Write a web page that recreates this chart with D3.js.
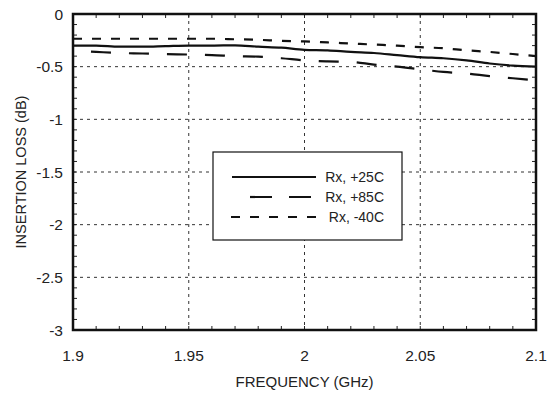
<!DOCTYPE html>
<html>
<head>
<meta charset="utf-8">
<script src="https://cdn.jsdelivr.net/npm/d3@7"></script>
<style>
    body { margin: 0; background: #fff; }
    text { font-family: "Liberation Sans", Arial, sans-serif; fill: #222; }
</style>
</head>
<body>
<svg id="chart"></svg>
<script>
var width = 549;
var height = 396;

// frequency points (GHz)
var freq = [1.90, 1.91, 1.92, 1.93, 1.94, 1.95, 1.96, 1.97, 1.98, 1.99, 2.00,
    2.01, 2.02, 2.03, 2.04, 2.05, 2.06, 2.07, 2.08, 2.09, 2.10];

// insertion loss (dB)
var rx25 = [-0.30, -0.30, -0.31, -0.31, -0.305, -0.30, -0.30, -0.297, -0.31, -0.32, -0.34,
    -0.345, -0.36, -0.37, -0.39, -0.41, -0.42, -0.44, -0.47, -0.49, -0.50];
var rx85 = [-0.35, -0.36, -0.37, -0.375, -0.38, -0.385, -0.39, -0.40, -0.405, -0.42, -0.44,
    -0.45, -0.455, -0.48, -0.50, -0.525, -0.55, -0.565, -0.59, -0.61, -0.63];
var rxm40 = [-0.235, -0.235, -0.235, -0.235, -0.235, -0.235, -0.235, -0.24, -0.245, -0.255, -0.26,
    -0.27, -0.28, -0.29, -0.30, -0.315, -0.325, -0.345, -0.36, -0.38, -0.40];

var seriesNames = ["Rx, +25C", "Rx, +85C", "Rx, -40C"];
var xTicks = [1.9, 1.95, 2, 2.05, 2.1];
var yTicks = [0, -0.5, -1, -1.5, -2, -2.5, -3];

var margin = { left: 73, right: 13, top: 14, bottom: 66 };

var svg = d3.select("#chart")
    .attr("width", width)
    .attr("height", height);

var x = d3.scaleLinear()
    .domain([1.9, 2.1])
    .range([margin.left, width - margin.right]);

var y = d3.scaleLinear()
    .domain([-3, 0])
    .range([height - margin.bottom, margin.top]);

// grid
svg.append("g")
    .selectAll("line")
    .data(xTicks.slice(1, -1))
    .enter()
    .append("line")
    .attr("x1", function (d) { return x(d); })
    .attr("x2", function (d) { return x(d); })
    .attr("y1", y(0))
    .attr("y2", y(-3))
    .attr("stroke", "#333")
    .attr("stroke-width", 1)
    .attr("stroke-dasharray", "3,4");

svg.append("g")
    .selectAll("line")
    .data(yTicks.slice(1, -1))
    .enter()
    .append("line")
    .attr("x1", x(1.9))
    .attr("x2", x(2.1))
    .attr("y1", function (d) { return y(d); })
    .attr("y2", function (d) { return y(d); })
    .attr("stroke", "#333")
    .attr("stroke-width", 1)
    .attr("stroke-dasharray", "3,4");

// minor ticks, inward on all four sides
var xMinor = d3.range(0, 21).map(function (i) { return 1.9 + i * 0.01; });
var yMinor = d3.range(0, 31).map(function (i) { return -3 + i * 0.1; });

var ticks = svg.append("g")
    .attr("stroke", "#222")
    .attr("stroke-width", 1);

xMinor.forEach(function (d) {
    ticks.append("line")
        .attr("x1", x(d)).attr("x2", x(d))
        .attr("y1", y(-3)).attr("y2", y(-3) - 4);
    ticks.append("line")
        .attr("x1", x(d)).attr("x2", x(d))
        .attr("y1", y(0)).attr("y2", y(0) + 4);
});

yMinor.forEach(function (d) {
    ticks.append("line")
        .attr("x1", x(1.9)).attr("x2", x(1.9) + 4)
        .attr("y1", y(d)).attr("y2", y(d));
    ticks.append("line")
        .attr("x1", x(2.1)).attr("x2", x(2.1) - 4)
        .attr("y1", y(d)).attr("y2", y(d));
});

// frame
svg.append("rect")
    .attr("x", x(1.9))
    .attr("y", y(0))
    .attr("width", x(2.1) - x(1.9))
    .attr("height", y(-3) - y(0))
    .attr("fill", "none")
    .attr("stroke", "#111")
    .attr("stroke-width", 2.5);

// tick labels
svg.append("g")
    .selectAll("text")
    .data(xTicks)
    .enter()
    .append("text")
    .attr("x", function (d) { return x(d); })
    .attr("y", 361)
    .attr("text-anchor", "middle")
    .attr("font-size", "15.5px")
    .text(function (d) { return d3.format("")(d); });

svg.append("g")
    .selectAll("text")
    .data(yTicks)
    .enter()
    .append("text")
    .attr("x", 63)
    .attr("y", function (d) { return y(d) + 5.5; })
    .attr("text-anchor", "end")
    .attr("font-size", "15.5px")
    .text(function (d) { return d3.format("")(d).replace("−", "-"); });

// axis titles
svg.append("text")
    .attr("x", (x(1.9) + x(2.1)) / 2)
    .attr("y", 387)
    .attr("text-anchor", "middle")
    .attr("font-size", "15px")
    .text("FREQUENCY (GHz)");

svg.append("text")
    .attr("transform", "translate(26," + (y(-1.5)) + ") rotate(-90)")
    .attr("text-anchor", "middle")
    .attr("font-size", "14.5px")
    .text("INSERTION LOSS (dB)");

// curves
var styles = [
    { data: rx25, dash: null, offset: 0 },
    { data: rx85, dash: "20,18", offset: 20 },
    { data: rxm40, dash: "9,10", offset: 0 }
];

var line = d3.line()
    .x(function (d, i) { return x(freq[i]); })
    .y(function (d) { return y(d); })
    .curve(d3.curveMonotoneX);

styles.forEach(function (s) {
    svg.append("path")
        .datum(s.data)
        .attr("d", line)
        .attr("fill", "none")
        .attr("stroke", "#111")
        .attr("stroke-width", 2.2)
        .attr("stroke-dasharray", s.dash)
        .attr("stroke-dashoffset", s.offset);
});

// legend
var legend = svg.append("g");

legend.append("rect")
    .attr("x", 213)
    .attr("y", 152)
    .attr("width", 189)
    .attr("height", 88)
    .attr("fill", "#fff")
    .attr("stroke", "#111")
    .attr("stroke-width", 1.2);

var legendLines = [
    { x1: 232, x2: 316, dash: null },
    { x1: 250, x2: 311, dash: "22,17" },
    { x1: 231, x2: 316, dash: "9,10" }
];

for (var i = 0; i < seriesNames.length; i++) {
    var ly = 177 + i * 20;
    legend.append("line")
        .attr("x1", legendLines[i].x1)
        .attr("x2", legendLines[i].x2)
        .attr("y1", ly)
        .attr("y2", ly)
        .attr("stroke", "#111")
        .attr("stroke-width", 2.2)
        .attr("stroke-dasharray", legendLines[i].dash);
    legend.append("text")
        .attr("x", 384)
        .attr("y", ly + 5)
        .attr("text-anchor", "end")
        .attr("font-size", "14px")
        .text(seriesNames[i]);
}
</script>
</body>
</html>
